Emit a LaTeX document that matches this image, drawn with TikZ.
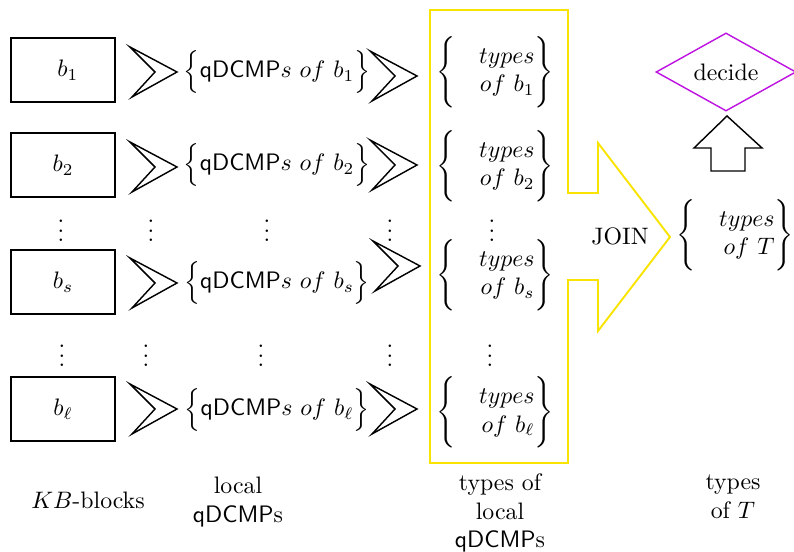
\documentclass[tikz,border=0pt]{standalone}
\usepackage{amsmath}
\usepackage{tikz}
\usetikzlibrary{positioning, shapes.geometric}
\definecolor{joinyellow}{RGB}{248,228,0}
\definecolor{decideviolet}{RGB}{190,20,225}
\tikzset{
    %Define style for blocks
    blockbox/.style={
           rectangle,
           draw=black, semithick,
           minimum width=43.7pt,
           minimum height=26.9pt},
 %
    typesnode/.style={
           inner sep=0pt},
 %
    decidebox/.style={
           diamond,
           draw=decideviolet, semithick,
           aspect=1.8,
           minimum width=58.8pt,
           minimum height=32.8pt},
 %
    caption/.style={
           align=center,
           inner sep=0pt},
 %
    % chevron between columns
    chev/.pic={
           \draw[semithick] (-23,-25) -- (24,0) -- (-21,25) -- (2,0) -- cycle;}
}
\newcommand{\qset}[1]{$\Big\{\textsf{qDCMP}s\ of\ #1\Big\}$}
\newcommand{\tset}[1]{$\Bigg\{\quad\begin{array}{@{}r@{}} types\\ of\ #1\end{array}\Bigg\}$}

\begin{document}
\begin{tikzpicture}[x=0.42pt, y=-0.42pt]
  \useasboundingbox (0,0) rectangle (794,552);

  % KB-blocks
  \node[blockbox] (b1) at (63,70) {\hspace{4pt}$b_1$};
  \node[blockbox] (b2) at (63,165) {$b_2$};
  \node[blockbox] (bs) at (63,282) {$b_s$};
  \node[blockbox] (bl) at (63,409) {$b_\ell$};

  % local qDCMPs
  \node (q1) at (277,72) {\qset{b_1}};
  \node (q2) at (277,165) {\qset{b_2}};
  \node (qs) at (277,283) {\qset{b_s}};
  \node (ql) at (277,410) {\qset{b_\ell}};

  % types of local qDCMPs
  \node[typesnode] (t1) at (495,72) {\tset{b_1}};
  \node[typesnode] (t2) at (495,166) {\tset{b_2}};
  \node[typesnode] (ts) at (495,275) {\tset{b_s}};
  \node[typesnode] (tl) at (495,412) {\tset{b_\ell}};

  % chevrons
  \pic at (153,72) {chev};
  \pic at (153,167) {chev};
  \pic at (153,283) {chev};
  \pic at (153,409) {chev};
  \pic at (393,76) {chev};
  \pic at (393,165) {chev};
  \pic at (396,266) {chev};
  \pic at (393,409) {chev};

  % dots
  \foreach \x/\n in {61/a,151/b,267/c,390/d,492/e}
    \node (du\n) at (\x,224) {$\vdots$};
  \foreach \x/\n in {62/a,146/b,261/c,390/d,490/e}
    \node (dd\n) at (\x,349) {$\vdots$};

  % JOIN arrow
  \draw[joinyellow, thick] (430,10) -- (568,10) -- (568,193) -- (598,193)
     -- (598,143) -- (670,237) -- (598,331) -- (598,280) -- (568,280)
     -- (568,463) -- (430,463) -- cycle;
  \node (join) at (620,236) {JOIN};

  % types of T and decide
  \node[typesnode] (tT) at (735,235) {$\Bigg\{\quad\begin{array}{@{}r@{}} types\\ of\ T\end{array}\Bigg\}$};
  \node[decidebox] (decide) at (726,72) {decide};
  \draw[semithick] (727,116) -- (762,148) -- (745,148) -- (745,171)
     -- (711,171) -- (711,148) -- (694,148) -- cycle;

  % captions
  \node[caption] (capa) at (88,500) {$KB$-blocks};
  \node[caption] (capb) at (238,502) {local\\ \textsf{qDCMP}s};
  \node[caption] (capc) at (500,513) {types of\\ local\\ \textsf{qDCMP}s};
  \node[caption] (capd) at (733,497) {types\\ of $T$};
\end{tikzpicture}
\end{document}
